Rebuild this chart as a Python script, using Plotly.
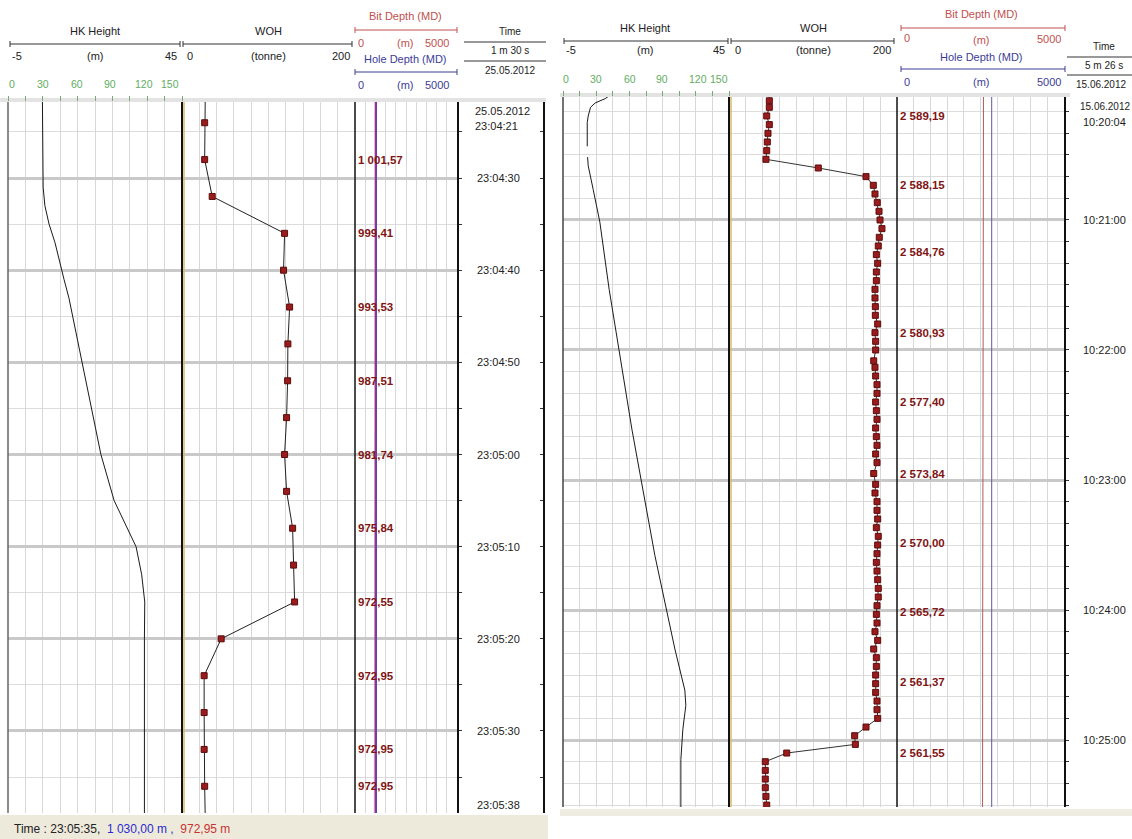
import plotly.graph_objects as go

W, H = 1132, 839
FONT = "Liberation Sans, Arial, sans-serif"


def secs(s):
    h, m, x = (int(p) for p in s.split(":"))
    return h * 3600 + m * 60 + x


def fmt_depth(v):
    return f"{v:,.2f}".replace(",", " ").replace(".", ",")


# ---------------- Log 1 : 25.05.2012 ----------------
hk1_time = ["23:04:20", "23:04:26", "23:04:31", "23:04:33", "23:04:35", "23:04:37",
            "23:04:39", "23:04:41", "23:04:43", "23:04:50", "23:05:00", "23:05:05",
            "23:05:08", "23:05:10", "23:05:13", "23:05:16", "23:05:20", "23:05:40"]
hk1_val = [4.85, 4.9, 5.1, 5.6, 6.8, 8.5, 9.7, 11.1, 12.5, 16.3, 21.7, 25.5,
           29.2, 31.8, 33.4, 34.3, 34.2, 34.2]

woh1_time = ["23:04:20", "23:04:24", "23:04:28", "23:04:32", "23:04:36", "23:04:40",
             "23:04:44", "23:04:48", "23:04:52", "23:04:56", "23:05:00", "23:05:04",
             "23:05:08", "23:05:12", "23:05:16", "23:05:20", "23:05:24", "23:05:28",
             "23:05:32", "23:05:36", "23:05:40"]
woh1_val = [27.0, 26.2, 26.2, 34.9, 118.6, 117.4, 124.4, 122.4, 122.1, 120.9, 118.6,
            120.9, 127.9, 129.0, 130.2, 45.3, 25.6, 25.6, 25.6, 26.2, 27.0]

bit1_time = ["23:04:28", "23:04:36", "23:04:44", "23:04:52", "23:05:00", "23:05:08",
             "23:05:16", "23:05:24", "23:05:32", "23:05:36"]
bit1_val = [1001.57, 999.41, 993.53, 987.51, 981.74, 975.84, 972.55, 972.95, 972.95, 972.95]
hole1_depth = 1030.00
cursor1_time = "23:05:35"

time1_labels = ["23:04:30", "23:04:40", "23:04:50", "23:05:00", "23:05:10", "23:05:20",
                "23:05:30", "23:05:38"]
date1 = "25.05.2012"
start1 = "23:04:21"
span1 = "1 m 30 s"

# ---------------- Log 2 : 15.06.2012 ----------------
hk2_time = ["10:20:02", "10:20:04", "10:20:06", "10:20:08", "10:20:12", "10:20:15",
            "10:20:26", "10:20:28", "10:20:31", "10:20:35", "10:20:46", "10:21:01",
            "10:21:32", "10:22:37", "10:23:35", "10:24:18", "10:24:37", "10:24:44",
            "10:24:55", "10:25:09", "10:25:35"]
hk2_val = [9.6, 7.7, 4.7, 3.3, 2.6, 2.3, 2.3, None, 2.4, 2.6, 4.1, 6.1, 8.9, 15.8,
           22.7, 28.7, 31.7, 32.0, 31.1, 30.5, 30.5]

woh2_time = ["10:20:00", "10:20:05", "10:20:08", "10:20:12", "10:20:16", "10:20:20",
             "10:20:24", "10:20:28", "10:20:32", "10:20:36", "10:20:40", "10:20:44",
             "10:20:48", "10:20:52", "10:20:56", "10:21:00", "10:21:04", "10:21:08",
             "10:21:12", "10:21:16", "10:21:20", "10:21:24", "10:21:28", "10:21:32",
             "10:21:36", "10:21:40", "10:21:44", "10:21:48", "10:21:52", "10:21:56",
             "10:22:00", "10:22:05", "10:22:08", "10:22:12", "10:22:16", "10:22:20",
             "10:22:24", "10:22:28", "10:22:32", "10:22:36", "10:22:40", "10:22:44",
             "10:22:48", "10:22:52", "10:22:57", "10:23:02", "10:23:06", "10:23:10",
             "10:23:14", "10:23:18", "10:23:22", "10:23:26", "10:23:30", "10:23:34",
             "10:23:38", "10:23:42", "10:23:46", "10:23:50", "10:23:54", "10:23:58",
             "10:24:02", "10:24:06", "10:24:10", "10:24:14", "10:24:18", "10:24:22",
             "10:24:26", "10:24:30", "10:24:34", "10:24:38", "10:24:42", "10:24:46",
             "10:24:50", "10:24:54", "10:24:58", "10:25:02", "10:25:06", "10:25:10",
             "10:25:14", "10:25:18", "10:25:22", "10:25:26", "10:25:30", "10:25:34"]
woh2_val = [48.0, 48.0, 48.0, 44.9, 48.0, 46.4, 45.6, 44.9, 44.0, 106.3, 163.1, 171.8,
            173.8, 176.5, 178.6, 179.8, 182.1, 178.9, 177.7, 175.4, 177.0, 175.4, 175.4,
            173.8, 173.8, 174.2, 174.2, 177.0, 173.8, 174.6, 174.6, 172.3, 173.8, 174.6,
            176.2, 176.2, 174.6, 175.4, 176.2, 174.6, 175.4, 176.2, 174.6, 176.2, 172.3,
            174.6, 173.8, 176.2, 176.2, 177.0, 175.4, 177.7, 177.0, 176.2, 175.4, 176.2,
            177.0, 177.7, 177.7, 176.2, 175.4, 176.2, 173.8, 177.0, 172.3, 175.4, 175.4,
            174.6, 174.6, 174.6, 176.2, 176.2, 177.0, 163.1, 149.6, 150.4, 68.7, 43.2,
            43.2, 43.2, 43.2, 44.0, 44.9, 45.0]

bit2_time = ["10:20:12", "10:20:44", "10:21:15", "10:21:52", "10:22:24", "10:22:57",
             "10:23:29", "10:24:01", "10:24:33", "10:25:06"]
bit2_val = [2589.19, 2588.15, 2584.76, 2580.93, 2577.40, 2573.84, 2570.00, 2565.72,
            2561.37, 2561.55]
hole2_depth = 2835.0

time2_labels = ["10:21:00", "10:22:00", "10:23:00", "10:24:00", "10:25:00", "10:25:31"]
date2 = "15.06.2012"
start2 = "10:20:04"
span2 = "5 m 26 s"

# visible time windows of both logs (seconds of day)
t1_top, t1_bot = secs("23:04:21") + 0.75, secs("23:05:38") + 0.9
t2_top, t2_bot = secs("10:20:03") + 0.25, secs("10:25:30") + 0.9


def px(x):
    return x / W


def py(y):
    return 1 - y / H


fig = go.Figure()


def add(x, y, xa, ya, **kw):
    fig.add_trace(go.Scatter(x=x, y=y, xaxis=xa, yaxis=ya, showlegend=False,
                             hoverinfo="skip", **kw))


marker = dict(symbol="square", size=6, color="#9a1b1b", line=dict(color="#5b0c0c", width=1))

# --- log 1 curves
add(hk1_val, [secs(t) for t in hk1_time], "x", "y", mode="lines",
    line=dict(color="#1a1a1a", width=1))
add(woh1_val, [secs(t) for t in woh1_time], "x2", "y", mode="lines+markers",
    line=dict(color="#222222", width=1), marker=marker)
add([hole1_depth, hole1_depth], [secs(woh1_time[0]), secs(woh1_time[-1])], "x3", "y",
    mode="lines", line=dict(color="#6b3fa8", width=2))
add([bit1_val[0]] + bit1_val + [bit1_val[-1]],
    [secs(woh1_time[0])] + [secs(t) for t in bit1_time] + [secs(woh1_time[-1])],
    "x3", "y", mode="lines", line=dict(color="rgba(165,50,140,0.55)", width=2))
add([None], [None], "x3", "y3", mode="lines")

# --- log 2 curves
add(hk2_val, [secs(t) for t in hk2_time], "x4", "y2", mode="lines",
    line=dict(color="#1a1a1a", width=1), connectgaps=False)
add(woh2_val, [secs(t) for t in woh2_time], "x5", "y2", mode="lines+markers",
    line=dict(color="#333333", width=1), marker=marker)
add([hole2_depth, hole2_depth], [secs(woh2_time[0]), secs(woh2_time[-1])], "x6", "y2",
    mode="lines", line=dict(color="#5a5a98", width=1))
add([bit2_val[0]] + bit2_val + [bit2_val[-1]],
    [secs(woh2_time[0])] + [secs(t) for t in bit2_time] + [secs(woh2_time[-1])],
    "x6", "y2", mode="lines", line=dict(color="#b05a5a", width=1))


def xax(x0, x1, rng, dtick, ya, **kw):
    d = dict(domain=[px(x0), px(x1)], range=rng, anchor=ya, dtick=dtick, tick0=rng[0],
             showgrid=True, gridcolor="#d7d7d7", gridwidth=1, zeroline=False,
             showticklabels=False, ticks="", showline=False, fixedrange=True)
    d.update(kw)
    return d


green_ticks = dict(side="top", ticks="outside", ticklen=5, tickcolor="#79a979", tickwidth=1)


def yax(y0, y1, rng, anchor, major, minor):
    return dict(domain=[py(y1), py(y0)], range=rng, anchor=anchor, side="right",
                showline=True, linecolor="#111111", linewidth=1.5,
                ticks="outside", ticklen=3, tickcolor="#333333",
                tick0=0, dtick=major, showgrid=True, gridcolor="#c9c9c9", gridwidth=2.5,
                minor=dict(tick0=0, dtick=minor, showgrid=True, gridcolor="#dcdcdc",
                           gridwidth=1, ticks="outside", ticklen=3, tickcolor="#333333"),
                showticklabels=False, zeroline=False, fixedrange=True)


fig.update_layout(
    width=W, height=H, margin=dict(l=0, r=0, t=0, b=0),
    paper_bgcolor="white", plot_bgcolor="white",
    xaxis=xax(8, 182, [-5, 45], 5, "y", **green_ticks),
    xaxis2=xax(182, 355, [0, 200], 20, "y"),
    xaxis3=xax(355, 457, [0, 5000], 500, "y"),
    xaxis4=xax(563, 729, [-5, 45], 5, "y2", **green_ticks),
    xaxis5=xax(729, 897, [0, 200], 20, "y2"),
    xaxis6=xax(897, 1064, [0, 5000], 500, "y2"),
    yaxis=yax(102, 813, [t1_bot, t1_top], "x3", 10, 5),
    yaxis2=yax(97, 807, [t2_bot, t2_top], "x6", 60, 10),
    yaxis3=dict(overlaying="y", anchor="free", position=px(544), side="left",
                range=[t1_bot, t1_top], showline=True, linecolor="#111111", linewidth=1.5,
                ticks="outside", ticklen=3, tickcolor="#333333", tick0=0, dtick=5,
                showgrid=False, showticklabels=False, zeroline=False, fixedrange=True),
)

shapes = []
annotations = []


def vline(x, y0, y1, color, width):
    shapes.append(dict(type="line", xref="paper", yref="paper", x0=px(x), x1=px(x),
                       y0=py(y0), y1=py(y1), line=dict(color=color, width=width)))


def hline(x0, x1, y, color, caps=True, width=1):
    shapes.append(dict(type="line", xref="paper", yref="paper", x0=px(x0), x1=px(x1),
                       y0=py(y), y1=py(y), line=dict(color=color, width=width)))
    if caps:
        for x in (x0, x1):
            shapes.append(dict(type="line", xref="paper", yref="paper", x0=px(x), x1=px(x),
                               y0=py(y - 3), y1=py(y + 3), line=dict(color=color, width=1)))


def rect(x0, y0, x1, y1, color):
    shapes.append(dict(type="rect", xref="paper", yref="paper", x0=px(x0), x1=px(x1),
                       y0=py(y1), y1=py(y0), fillcolor=color, line=dict(width=0),
                       layer="below"))


def text(s, x, y, size=11, color="#222222", anchor="center", bold=False):
    annotations.append(dict(text=f"<b>{s}</b>" if bold else s, x=px(x), y=py(y),
                            xref="paper", yref="paper", xanchor=anchor, yanchor="middle",
                            showarrow=False, font=dict(family=FONT, size=size, color=color)))


RED, BLUE, GREEN, LBL = "#c0504d", "#3c3c96", "#62ad62", "#801515"

# --- track borders and header separators
rect(0, 98, 546, 102, "#e3e3e3")
rect(560, 93, 1070, 97, "#e3e3e3")
for x, c, w in [(8, "#666666", 1.5), (182, "#111111", 2), (184, "#d8b870", 1.5),
                (355, "#111111", 1.5)]:
    vline(x, 102, 813, c, w)
for x, c, w in [(563, "#444444", 1.5), (729, "#111111", 2), (731, "#d8b870", 1.5),
                (897, "#111111", 1.5)]:
    vline(x, 97, 807, c, w)

# --- status bars
rect(0, 815, 548, 839, "#eeeadb")
rect(560, 809, 1132, 816, "#efece2")
annotations.append(dict(
    text=(f"Time : {cursor1_time},  <span style='color:#2a2ad0'>{fmt_depth(hole1_depth)} m ,</span>"
          f"  <span style='color:#c83232'>{fmt_depth(bit1_val[-1])} m</span>"),
    x=px(12), y=py(829), xref="paper", yref="paper", xanchor="left", yanchor="middle",
    showarrow=False, font=dict(family=FONT, size=12, color="#222222")))

# --- headers, log 1
text("HK Height", 95, 31)
text("WOH", 268, 31)
hline(10, 180, 44, "#333333")
hline(183, 352, 44, "#333333")
text("-5", 10, 56, anchor="left")
text("(m)", 95, 56)
text("45", 179, 56, anchor="right")
text("0", 185, 56, anchor="left")
text("(tonne)", 268, 56)
text("200", 352, 56, anchor="right")
text("Bit Depth (MD)", 405, 16, color=RED)
hline(355, 457, 30, RED)
text("0", 356, 43, color=RED, anchor="left")
text("(m)", 405, 43, color=RED)
text("5000", 451, 43, color=RED, anchor="right")
text("Hole Depth (MD)", 405, 59, color=BLUE)
hline(355, 457, 72, BLUE)
text("0", 356, 85, color=BLUE, anchor="left")
text("(m)", 405, 85, color=BLUE)
text("5000", 451, 85, color=BLUE, anchor="right")
for s, x in zip(["0", "30", "60", "90", "120", "150"], [12, 43, 77, 110, 144, 170]):
    text(s, x, 84, size=10.5, color=GREEN)
text("Time", 510, 32, size=10)
hline(464, 546, 42, "#333333", caps=False)
text(span1, 510, 51, size=10)
hline(464, 546, 61, "#333333", caps=False)
text(date1, 510, 70, size=10)

# --- headers, log 2
text("HK Height", 645, 28)
text("WOH", 813, 28)
hline(564, 728, 41, "#333333")
hline(731, 894, 41, "#333333")
text("-5", 564, 50, anchor="left")
text("(m)", 645, 50)
text("45", 727, 50, anchor="right")
text("0", 733, 50, anchor="left")
text("(tonne)", 813, 50)
text("200", 893, 50, anchor="right")
text("Bit Depth (MD)", 982, 14, color=RED)
hline(901, 1065, 28, RED)
text("0", 902, 38, color=RED, anchor="left")
text("(m)", 982, 40, color=RED)
text("5000", 1063, 39, color=RED, anchor="right")
text("Hole Depth (MD)", 982, 57, color=BLUE)
hline(901, 1065, 69, BLUE)
text("0", 902, 82, color=BLUE, anchor="left")
text("(m)", 982, 82, color=BLUE)
text("5000", 1063, 82, color=BLUE, anchor="right")
for s, x in zip(["0", "30", "60", "90", "120", "150"], [566, 596, 630, 662, 698, 719]):
    text(s, x, 79, size=10.5, color=GREEN)
text("Time", 1104, 47, size=10)
hline(1067, 1132, 57, "#333333", caps=False)
text(span2, 1104, 66, size=10)
hline(1067, 1132, 75, "#333333", caps=False)
text(date2, 1101, 84, size=10)

# --- time track labels
text(date1, 473, 111, anchor="left")
text(start1, 473, 126, anchor="left")
text(date2, 1078, 106, size=10, anchor="left")
text(start2, 1081, 122, anchor="left")


def tlabel(s, ya, xc, yshift=0):
    annotations.append(dict(text=s, x=px(xc), y=secs(s), xref="paper", yref=ya,
                            xanchor="center", yanchor="middle", yshift=yshift,
                            showarrow=False, font=dict(family=FONT, size=11, color="#222222")))


for s in time1_labels:
    tlabel(s, "y", 498)
for s in time2_labels[:-1]:
    tlabel(s, "y2", 1104)
tlabel(time2_labels[-1], "y2", 1104, yshift=7)

# --- depth value labels in the depth tracks
for t, v in zip(bit1_time, bit1_val):
    annotations.append(dict(text=f"<b>{fmt_depth(v)}</b>", x=px(356), y=secs(t),
                            xref="paper", yref="y", xanchor="left", yanchor="middle",
                            showarrow=False, font=dict(family=FONT, size=11.5, color=LBL)))
for t, v in zip(bit2_time, bit2_val):
    annotations.append(dict(text=f"<b>{fmt_depth(v)}</b>", x=px(898), y=secs(t),
                            xref="paper", yref="y2", xanchor="left", yanchor="middle",
                            showarrow=False, font=dict(family=FONT, size=11.5, color=LBL)))

fig.update_layout(shapes=shapes, annotations=annotations)
fig.write_html("out.html")
